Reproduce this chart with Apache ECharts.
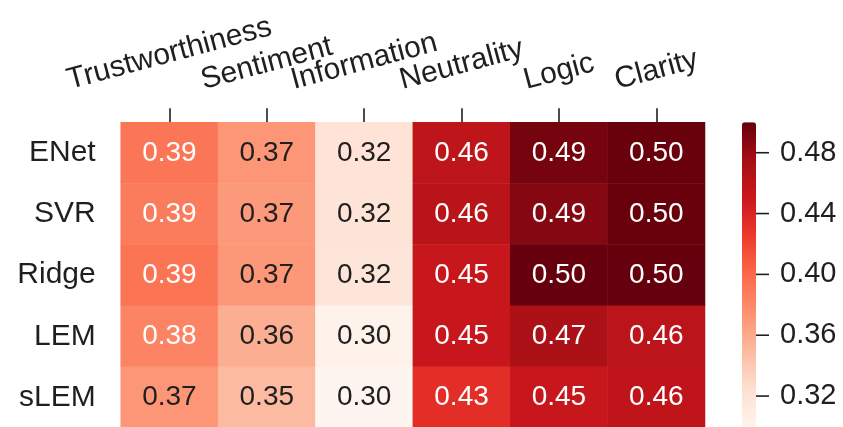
<!DOCTYPE html>
<html><head><meta charset="utf-8">
<script src="https://cdn.jsdelivr.net/npm/echarts@6/dist/echarts.min.js"></script>
<style>html,body{margin:0;padding:0;background:#fff}#c{width:843px;height:427px}</style>
</head><body><div id="c"></div>
<script>
const columns = ['Trustworthiness', 'Sentiment', 'Information', 'Neutrality', 'Logic', 'Clarity'];
const rows = ['ENet', 'SVR', 'Ridge', 'LEM', 'sLEM'];
const ENet  = [0.392, 0.372, 0.321, 0.459, 0.494, 0.499];
const SVR   = [0.388, 0.370, 0.320, 0.462, 0.488, 0.499];
const Ridge = [0.393, 0.371, 0.318, 0.452, 0.500, 0.500];
const LEM   = [0.383, 0.357, 0.303, 0.452, 0.470, 0.460];
const sLEM  = [0.372, 0.350, 0.299, 0.434, 0.452, 0.458];
const rowValues = [ENet, SVR, Ridge, LEM, sLEM];
const colorbarTicks = [0.32, 0.36, 0.40, 0.44, 0.48];
const scaleMin = 0.299, scaleMax = 0.500;
const reds = ['#fff5f0','#fee0d2','#fcbba1','#fc9272','#fb6a4a','#ef3b2c','#cb181d','#a50f15','#67000d'];

const FONT = '"Liberation Sans", Arial, sans-serif';
const TXT = '#1f1f1f';
const ROT = 15;
const COLFS = 30;
const GRID_TOP = 122.3;
const LABEL_GAP = 25;   // axis top to bottom of rotated label box

const data = [];
rowValues.forEach((vals, i) => vals.forEach((v, j) => {
  data.push({ value: [j, i, v], label: { color: v >= 0.375 ? '#ffffff' : TXT } });
}));

const chart = echarts.init(document.getElementById('c'), null, { renderer: 'canvas' });
chart.setOption({
  backgroundColor: '#ffffff',
  animation: false,
  grid: [
    { left: 120.7, top: GRID_TOP, width: 584.3, height: 305.7, outerBoundsMode: 'none' },
    { left: 742, top: GRID_TOP, width: 14, height: 305.7, outerBoundsMode: 'none' }
  ],
  xAxis: [
    {
      type: 'category', gridIndex: 0, position: 'top', data: columns,
      axisLine: { show: false },
      axisTick: { show: true, interval: 0, alignWithLabel: true, length: 14, lineStyle: { color: TXT, width: 1.6 } },
      axisLabel: { show: false, interval: 0 },
      splitLine: { show: false }
    },
    { type: 'value', gridIndex: 1, show: false, min: 0, max: 1 }
  ],
  yAxis: [
    {
      type: 'category', gridIndex: 0, data: rows, inverse: true,
      axisLine: { show: false }, axisTick: { show: false },
      axisLabel: { fontSize: 30, fontFamily: FONT, color: TXT, margin: 25 },
      splitLine: { show: false }
    },
    {
      type: 'value', gridIndex: 1, position: 'right', min: scaleMin, max: scaleMax,
      axisLine: { show: false }, splitLine: { show: false },
      axisTick: { show: false },
      axisLabel: {
        customValues: colorbarTicks, margin: 0, align: 'left', verticalAlign: 'middle',
        formatter: v => '{tk|}{num|' + v.toFixed(2) + '}',
        rich: {
          tk: { width: 13, height: 1.6, backgroundColor: TXT },
          num: { fontSize: 29, fontFamily: FONT, color: TXT, padding: [0, 0, 0, 11] }
        }
      }
    }
  ],
  visualMap: {
    type: 'continuous', seriesIndex: 0, min: scaleMin, max: scaleMax,
    calculable: false, orient: 'vertical', left: 742, top: GRID_TOP,
    itemWidth: 14, itemHeight: 305.7, padding: 0, text: null, showLabel: false,
    inRange: { color: reds }
  },
  series: [{
    type: 'heatmap', xAxisIndex: 0, yAxisIndex: 0, data: data,
    label: { show: true, fontSize: 28, fontFamily: FONT, formatter: p => p.value[2].toFixed(2) },
    itemStyle: { borderWidth: 0 },
    emphasis: { disabled: true }
  }]
});

// rotated column labels, centred on their ticks like matplotlib (bbox bottom on a common line)
const ctx = document.createElement('canvas').getContext('2d');
ctx.font = COLFS + 'px ' + FONT;
const rad = ROT * Math.PI / 180;
const hb = COLFS * 1.117;
const bottomY = GRID_TOP - LABEL_GAP;
const graphics = columns.map(name => {
  const L = ctx.measureText(name).width;
  const cx = chart.convertToPixel({ xAxisIndex: 0 }, name);
  const cy = bottomY - L / 2 * Math.sin(rad) - hb / 2 * Math.cos(rad);
  return {
    type: 'text', x: cx, y: cy, rotation: rad, silent: true,
    style: { text: name, font: COLFS + 'px ' + FONT, fill: TXT, align: 'center', verticalAlign: 'middle' }
  };
});
chart.setOption({ graphic: graphics });
</script></body></html>
